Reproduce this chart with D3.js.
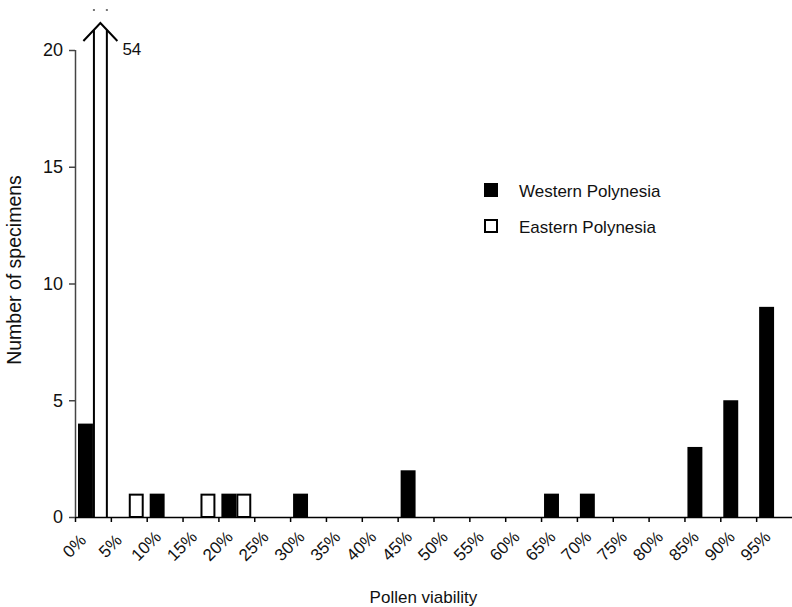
<!DOCTYPE html>
<html>
<head>
<meta charset="utf-8">
<script src="https://cdn.jsdelivr.net/npm/d3@7"></script>
<style>
  body { margin: 0; background: #fff; }
  text { font-family: "Liberation Sans", Arial, Helvetica, sans-serif; fill: #111; }
</style>
</head>
<body>
<div id="chart"></div>
<script>
// bins (lower bound of each 5% class) and their tick labels
const bins = [0, 5, 10, 15, 20, 25, 30, 35, 40, 45, 50, 55, 60, 65, 70, 75, 80, 85, 90, 95];
const tickLabels = ["0%", "5%", "10%", "15%", "20%", "25%", "30%", "35%", "40%", "45%",
  "50%", "55%", "60%", "65%", "70%", "75%", "80%", "85%", "90%", "95%"];

// number of specimens per bin
const western = [4, 0, 1, 0, 1, 0, 1, 0, 0, 2, 0, 0, 0, 1, 1, 0, 0, 3, 5, 9];
const eastern = [54, 1, 0, 1, 1, 0, 0, 0, 0, 0, 0, 0, 0, 0, 0, 0, 0, 0, 0, 0];

const series = ["Western Polynesia", "Eastern Polynesia"];
const yTicks = [0, 5, 10, 15, 20];

const W = 792, H = 607;
const margin = {top: 50, right: 0, bottom: 90, left: 75};
const width = W - margin.left - margin.right;
const height = H - margin.top - margin.bottom;
const yMax = 20;

const svg = d3.select("#chart")
  .append("svg")
  .attr("width", W)
  .attr("height", H);

const g = svg.append("g")
  .attr("transform", `translate(${margin.left},${margin.top})`);

// scales
const x = d3.scaleLinear().domain([0, 100]).range([0, width]);
const bw = x(5) - x(0);
const sub = d3.scaleBand().domain(series).range([0, bw]).paddingInner(0).paddingOuter(0.2);
const y = d3.scaleLinear().domain([0, yMax]).range([height, 0]);

// flatten to one row per bar
const rows = [];
bins.forEach((b, i) => {
  rows.push({bin: b, s: series[0], v: western[i]});
  rows.push({bin: b, s: series[1], v: eastern[i]});
});
const bars = rows.filter(d => d.v > 0);

// normal bars
g.selectAll(".bar")
  .data(bars.filter(d => d.v <= yMax))
  .join("rect")
  .attr("class", "bar")
  .attr("x", d => x(d.bin) + sub(d.s) + (d.s === series[1] ? 1 : 0))
  .attr("y", d => y(d.v) + (d.s === series[1] ? 1 : 0))
  .attr("width", d => sub.bandwidth() - (d.s === series[1] ? 2 : 0))
  .attr("height", d => height - y(d.v) - (d.s === series[1] ? 1 : 0))
  .attr("fill", d => d.s === series[0] ? "#000" : "#fff")
  .attr("stroke", d => d.s === series[1] ? "#000" : "none")
  .attr("stroke-width", 2);

// off-scale bars: open sides with an arrow head and value label
const big = bars.filter(d => d.v > yMax);
big.forEach(d => {
  const x0 = x(d.bin) + sub(d.s) + 1;
  const x1 = x0 + sub.bandwidth() - 2;
  const cx = (x0 + x1) / 2;
  const apex = y(yMax) - 27;
  const wing = 18;
  const half = 17;
  const sideTop = apex + (cx - x0) * wing / half;
  g.append("path")
    .attr("d", `M${x0},${height}V${sideTop}M${x1},${height}V${sideTop}`)
    .attr("fill", "none").attr("stroke", "#000").attr("stroke-width", 2);
  g.append("path")
    .attr("d", `M${cx - half},${apex + wing}L${cx},${apex}L${cx + half},${apex + wing}`)
    .attr("fill", "none").attr("stroke", "#000").attr("stroke-width", 2);
  g.append("text")
    .attr("x", cx + 22)
    .attr("y", y(yMax) + 5)
    .attr("font-size", 17)
    .text(d.v);
  // small marks left above the break
  [x0, x1].forEach(px => g.append("rect")
    .attr("x", px - 1).attr("y", apex - 14).attr("width", 2).attr("height", 2)
    .attr("fill", "#777"));
});

// x axis
const xAxis = g.append("g")
  .attr("transform", `translate(0,${height})`)
  .call(d3.axisBottom(x).tickValues(bins).tickSize(5).tickFormat((d, i) => tickLabels[i]));
xAxis.select(".domain").attr("stroke", "#000").attr("stroke-width", 1.5).attr("d", `M0,0.5H${width + 5}`);
xAxis.selectAll(".tick line").attr("stroke", "#000").attr("stroke-width", 1.5);
xAxis.selectAll(".tick text")
  .attr("font-size", 17)
  .attr("fill", "#111")
  .attr("text-anchor", "middle")
  .attr("dy", 0)
  .attr("y", 0)
  .attr("transform", "translate(3,33) rotate(-45)");

// y axis
const yAxis = g.append("g")
  .call(d3.axisLeft(y).tickValues(yTicks).tickSize(6).tickPadding(6));
yAxis.select(".domain").attr("stroke", "#444").attr("stroke-width", 1.5).attr("d", `M0.5,${height}V0`);
yAxis.selectAll(".tick line").attr("stroke", "#444").attr("stroke-width", 1.5);
yAxis.selectAll(".tick text").attr("font-size", 18).attr("fill", "#111");

// axis titles
svg.append("text")
  .attr("x", margin.left + width * 0.486)
  .attr("y", 603)
  .attr("text-anchor", "middle")
  .attr("font-size", 17)
  .text("Pollen viability");

svg.append("text")
  .attr("transform", `translate(21,${margin.top + 220}) rotate(-90)`)
  .attr("text-anchor", "middle")
  .attr("font-size", 19.5)
  .text("Number of specimens");

// legend
const legend = svg.append("g").attr("transform", "translate(484,183)");
series.forEach((s, i) => {
  const row = legend.append("g").attr("transform", `translate(0,${i * 36})`);
  row.append("rect")
    .attr("x", i ? 1 : 0).attr("y", i ? 1 : 0)
    .attr("width", i ? 12 : 14).attr("height", i ? 12 : 14)
    .attr("fill", i ? "#fff" : "#000")
    .attr("stroke", i ? "#000" : "none")
    .attr("stroke-width", 2);
  row.append("text")
    .attr("x", 35)
    .attr("y", 14)
    .attr("font-size", 17)
    .text(s);
});
</script>
</body>
</html>
